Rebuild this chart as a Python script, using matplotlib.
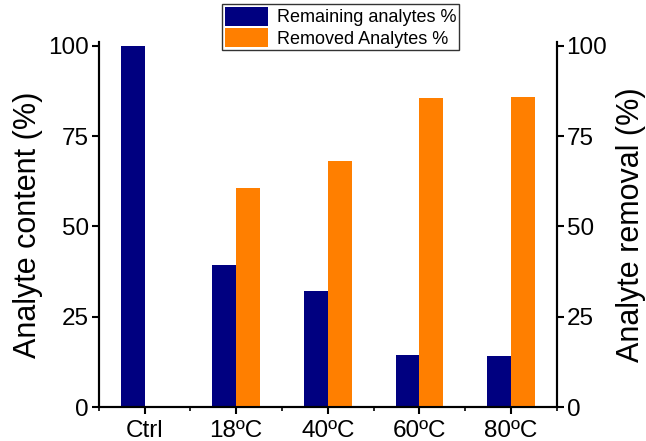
import numpy as np
import matplotlib.pyplot as plt
from matplotlib.ticker import MultipleLocator

plt.rcParams['font.family'] = ['Liberation Sans', 'DejaVu Sans']

# data
categories = ['Ctrl', '18ºC', '40ºC', '60ºC', '80ºC']
remaining = [100, 39.3, 32.0, 14.4, 14.0]
removed = [0, 60.7, 68.0, 85.6, 86.0]

x = np.arange(len(categories))
w = 0.26

fig = plt.figure(figsize=(6.46, 4.41), dpi=100)
ax = fig.add_axes([0.153, 0.077, 0.709, 0.827])
ax2 = ax.twinx()

b1 = ax.bar(x - w / 2, remaining, w, color='#000080', label='Remaining analytes %')
b2 = ax2.bar(x + w / 2, removed, w, color='#FF7F00', label='Removed Analytes %')

for a in (ax, ax2):
    a.set_ylim(0, 101)
    a.set_yticks([0, 25, 50, 75, 100])
    a.spines['top'].set_visible(False)
    for s in a.spines.values():
        s.set_linewidth(1.5)
    a.tick_params(axis='y', direction='out', length=5, width=1.5, labelsize=17.5, pad=2)

ax.set_xlim(-0.5, 4.5)
ax.set_xticks(x)
ax.set_xticklabels(categories)
ax.xaxis.set_minor_locator(MultipleLocator(1, offset=0.5))
ax.tick_params(axis='x', which='major', direction='out', length=5, width=1.5, labelsize=17.5, pad=4)
ax.tick_params(axis='x', which='minor', direction='out', length=3, width=1.2)

ax.set_ylabel('Analyte content (%)', fontsize=22, labelpad=4)
ax2.set_ylabel('Analyte removal (%)', fontsize=22, labelpad=6)

leg = fig.legend(handles=[b1, b2], loc='upper center', bbox_to_anchor=(0.527, 0.99),
                 fontsize=13, frameon=True, fancybox=False, edgecolor='black',
                 handlelength=2.4, handleheight=1.2, labelspacing=0.1,
                 borderpad=0.15, handletextpad=0.5, borderaxespad=0)
leg.get_frame().set_linewidth(1.0)

fig.savefig('out.png', dpi=100)
